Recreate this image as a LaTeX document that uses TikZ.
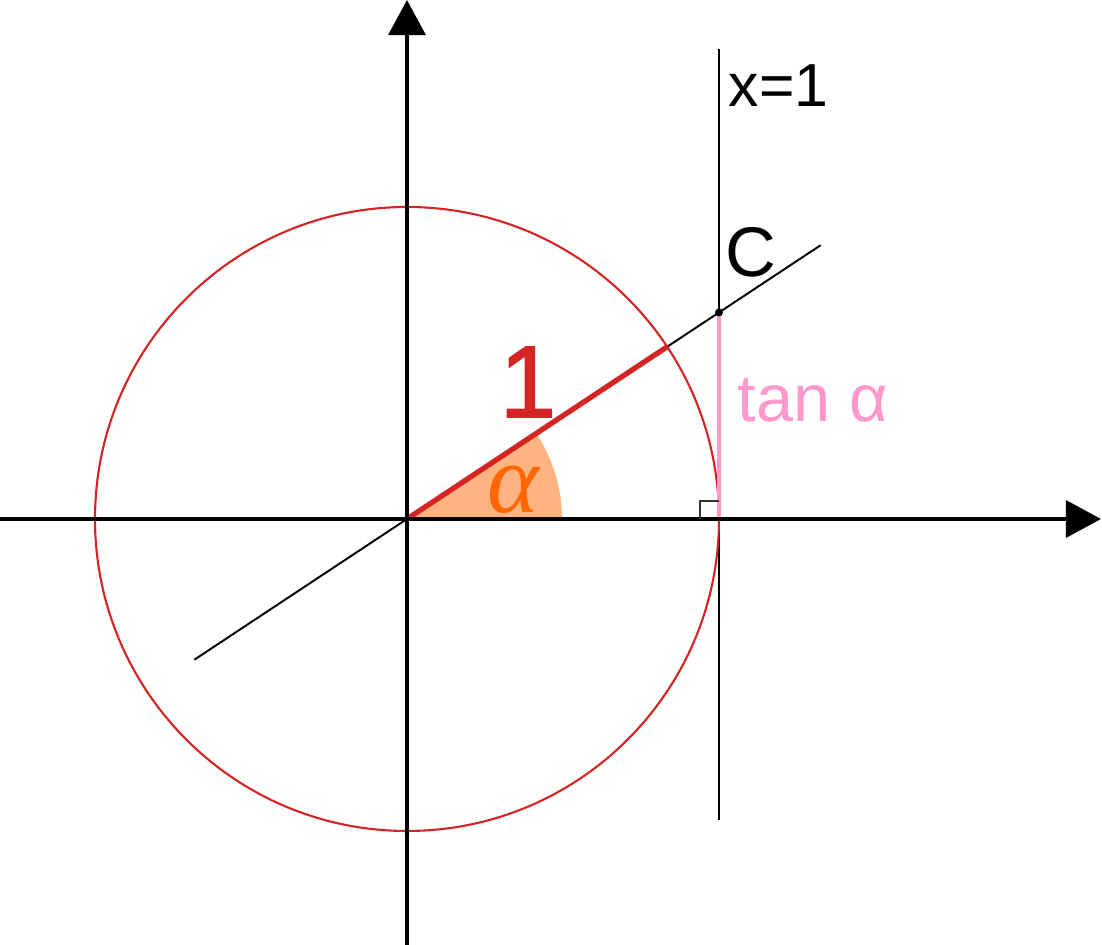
\documentclass[tikz,border=0pt]{standalone}
\usepackage{fontspec}
\setmainfont{Liberation Sans}
\newfontfamily\anglefont{Liberation Serif}
\newfontfamily\onefont[FakeBold=1.6]{Liberation Sans}
\usepackage{xcolor}
\usetikzlibrary{arrows.meta,calc,positioning}
\definecolor{unitred}{RGB}{212,36,36}
\definecolor{tanpink}{RGB}{255,153,204}
\definecolor{sectorfill}{RGB}{255,179,128}
\definecolor{alphaorange}{RGB}{255,102,0}

\begin{document}
\begin{tikzpicture}[
    axis/.style={line width=1.2pt, -{Triangle[length=10pt, width=10.5pt]}},
    guide/.style={line width=0.55pt},
    txt/.style={inner sep=0, anchor=base west},
]
\useasboundingbox (-4.07,-4.26) rectangle (6.95,5.19);
\def\ang{33.5}
\def\rad{3.12}

% points
\coordinate (O) at (0,0);
\coordinate (P) at (\ang:\rad);
\coordinate (T) at (\rad,0);
\coordinate (C) at (\rad,{\rad*tan(\ang)});
\coordinate (secA) at (\ang+180:2.55);
\coordinate (secB) at (\ang:4.96);
\coordinate (lineA) at (\rad,-3.01);
\coordinate (lineB) at (\rad,4.70);
\coordinate (xA) at (-4.07,0);
\coordinate (xB) at (6.94,0);
\coordinate (yA) at (0,-4.26);
\coordinate (yB) at (0,5.19);

% angle sector
\path[fill=sectorfill] (O) -- (1.55,0) arc[start angle=0, end angle=\ang, radius=1.55] -- cycle;

\path[draw, guide] (secA) -- (secB);
\path[draw, guide] (lineA) -- (lineB);
\path[draw, unitred, line width=0.6pt] (O) circle[radius=\rad];
\path[draw, tanpink, line width=1pt] (T) -- (C);
\path[draw, unitred, line width=1.5pt] (O) -- (P);

% axes
\path[draw, axis] (xA) -- (xB);
\path[draw, axis] (yA) -- (yB);

% right angle
\path[draw, black!80, line width=0.4pt] (T) ++(-0.19,0) -- ++(0,0.18) -- ++(0.19,0);
\fill (C) circle[radius=0.04];

% labels
\node[txt, font=\fontsize{17.3}{19}\selectfont] (lblline) at (3.21,4.12) {x=1};
\node[txt, font=\fontsize{20}{22}\selectfont] (lblC) at (3.18,2.42) {C};
\node[txt, tanpink, font=\fontsize{19}{21}\selectfont] (lbltan) at (3.30,0.97) {tan α};
\node[txt, unitred, font=\fontsize{29}{32}\selectfont\onefont] (lblone) at (0.92,1.02) {1};
\node[txt, alphaorange, font=\fontsize{28}{30}\selectfont\anglefont\itshape] (lblalpha) at (0.80,0.06) {α};
\end{tikzpicture}
\end{document}
